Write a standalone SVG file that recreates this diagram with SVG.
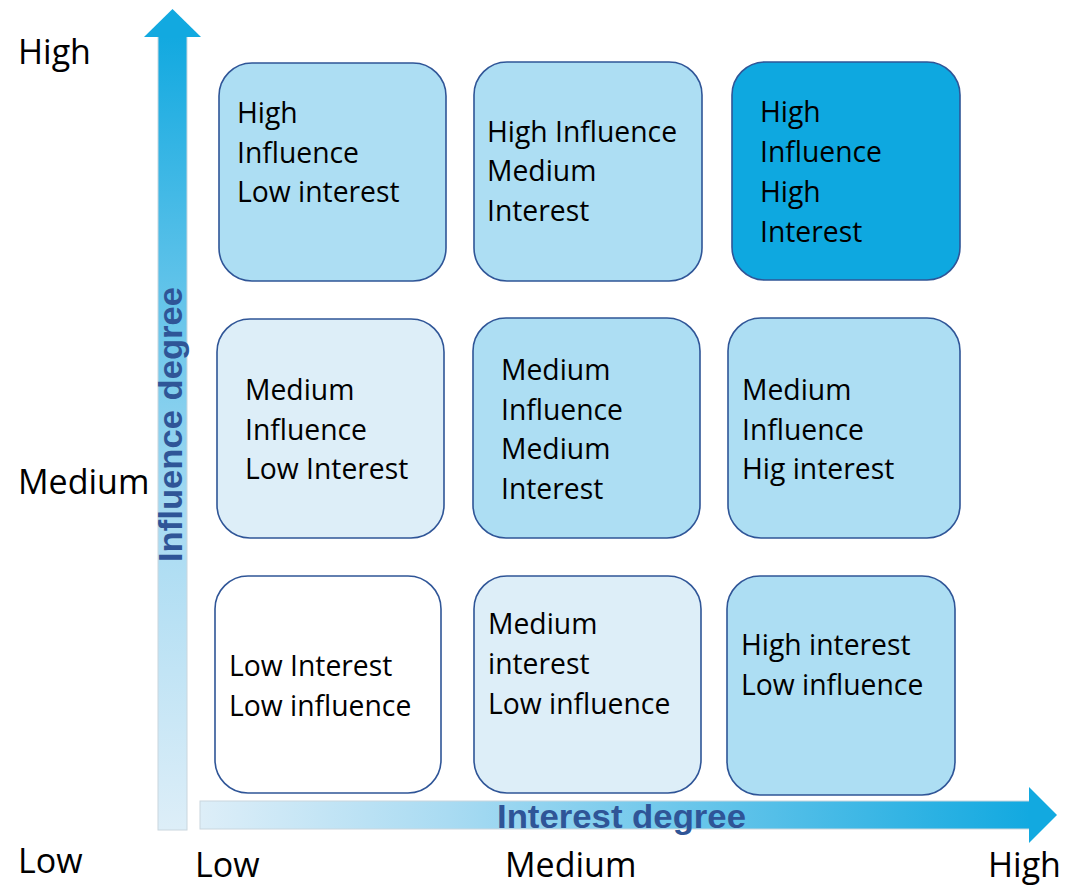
<svg xmlns="http://www.w3.org/2000/svg" width="1072" height="888" viewBox="0 0 1072 888">
<defs>
<linearGradient id="gv" x1="0" y1="37" x2="0" y2="830" gradientUnits="userSpaceOnUse">
<stop offset="0" stop-color="#12A9E0"/>
<stop offset="0.6" stop-color="#A6DAF2"/>
<stop offset="1" stop-color="#DDEEF8"/>
</linearGradient>
<linearGradient id="gh" x1="200" y1="0" x2="1030" y2="0" gradientUnits="userSpaceOnUse">
<stop offset="0" stop-color="#DDEEF8"/>
<stop offset="0.3" stop-color="#A9DBF2"/>
<stop offset="1" stop-color="#12A9E0"/>
</linearGradient>
<style>
.box{stroke:#2F5597;stroke-width:1.6}
.lt{fill:#ADDEF3}
.pale{fill:#DDEEF8}
.dark{fill:#0EA8E0}
.wh{fill:#FFFFFF}
.t{font-family:"Open Sans","Liberation Sans",sans-serif;font-size:28.3px;fill:#000}
.ax{font-family:"Open Sans","Liberation Sans",sans-serif;font-size:34px;fill:#000}
.axt{font-family:"Liberation Sans",Arial,sans-serif;font-weight:bold;font-size:33px;fill:#2F5597}
.shaft{stroke:#C9D6DE;stroke-width:1}
</style>
</defs>
<rect width="1072" height="888" fill="#FFFFFF"/>

<g id="connectors">
<g id="influence-axis">
<rect class="shaft" x="158" y="36" width="29" height="794" fill="url(#gv)"/>
<polygon points="172.5,9 201,37 144,37" fill="#12A9E0"/>
<text class="axt" transform="translate(182,562) rotate(-90)" textLength="275" lengthAdjust="spacingAndGlyphs">Influence degree</text>
</g>
<g id="interest-axis">
<rect class="shaft" x="200" y="801" width="830" height="28" fill="url(#gh)"/>
<polygon points="1029,787 1057,815 1029,843" fill="#12A9E0"/>
<text class="axt" x="497" y="828" textLength="249" lengthAdjust="spacingAndGlyphs">Interest degree</text>
</g>
</g>

<g id="axis-labels">
<text class="ax" x="18" y="64">High</text>
<text class="ax" x="18" y="494">Medium</text>
<text class="ax" x="18" y="873">Low</text>
<text class="ax" x="195" y="877">Low</text>
<text class="ax" x="505" y="877">Medium</text>
<text class="ax" x="988" y="877">High</text>
</g>

<g id="high-influence-low-interest">
<rect class="box lt" x="219" y="63" width="227" height="218" rx="33"/>
<text class="t" x="237" y="123">High</text>
<text class="t" x="237" y="163">Influence</text>
<text class="t" x="237" y="202">Low interest</text>
</g>
<g id="high-influence-medium-interest">
<rect class="box lt" x="474" y="62" width="228" height="219" rx="33"/>
<text class="t" x="487" y="142">High Influence</text>
<text class="t" x="487" y="181">Medium</text>
<text class="t" x="487" y="221">Interest</text>
</g>
<g id="high-influence-high-interest">
<rect class="box dark" x="732" y="62" width="228" height="218" rx="33"/>
<text class="t" x="760" y="122">High</text>
<text class="t" x="760" y="162">Influence</text>
<text class="t" x="760" y="202">High</text>
<text class="t" x="760" y="242">Interest</text>
</g>

<g id="medium-influence-low-interest">
<rect class="box pale" x="217" y="319" width="227" height="219" rx="33"/>
<text class="t" x="245" y="400">Medium</text>
<text class="t" x="245" y="440">Influence</text>
<text class="t" x="245" y="479">Low Interest</text>
</g>
<g id="medium-influence-medium-interest">
<rect class="box lt" x="473" y="318" width="227" height="220" rx="33"/>
<text class="t" x="501" y="380">Medium</text>
<text class="t" x="501" y="420">Influence</text>
<text class="t" x="501" y="459">Medium</text>
<text class="t" x="501" y="499">Interest</text>
</g>
<g id="medium-influence-high-interest">
<rect class="box lt" x="728" y="318" width="232" height="220" rx="33"/>
<text class="t" x="742" y="400">Medium</text>
<text class="t" x="742" y="440">Influence</text>
<text class="t" x="742" y="479">Hig interest</text>
</g>

<g id="low-interest-low-influence">
<rect class="box wh" x="215" y="576" width="226" height="217" rx="33"/>
<text class="t" x="229" y="676">Low Interest</text>
<text class="t" x="229" y="716">Low influence</text>
</g>
<g id="medium-interest-low-influence">
<rect class="box pale" x="474" y="576" width="227" height="217" rx="33"/>
<text class="t" x="488" y="634">Medium</text>
<text class="t" x="488" y="674">interest</text>
<text class="t" x="488" y="714">Low influence</text>
</g>
<g id="high-interest-low-influence">
<rect class="box lt" x="727" y="576" width="228" height="219" rx="33"/>
<text class="t" x="741" y="655">High interest</text>
<text class="t" x="741" y="695">Low influence</text>
</g>
</svg>
